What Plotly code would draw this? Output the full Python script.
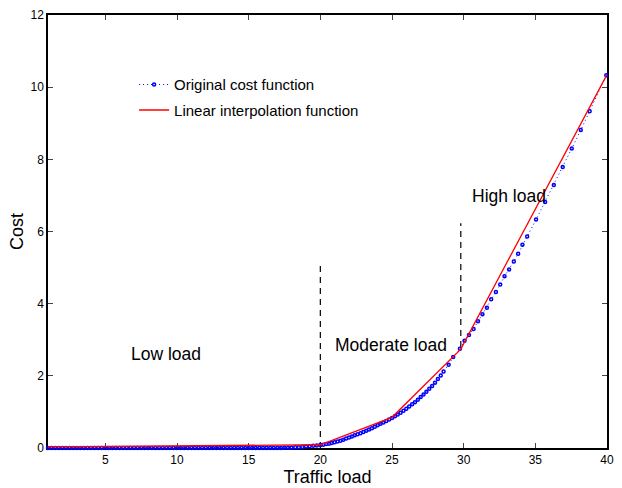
import plotly.graph_objects as go

# ---- data ----
orig_x = [
    1.0, 1.25, 1.5, 1.75, 2.0, 2.25, 2.5, 2.75, 3.0, 3.25, 3.5, 3.75,
    4.0, 4.25, 4.5, 4.75, 5.0, 5.25, 5.5, 5.75, 6.0, 6.25, 6.5, 6.75,
    7.0, 7.25, 7.5, 7.75, 8.0, 8.25, 8.5, 8.75, 9.0, 9.25, 9.5, 9.75,
    10.0, 10.25, 10.5, 10.75, 11.0, 11.25, 11.5, 11.75, 12.0, 12.25, 12.5, 12.75,
    13.0, 13.25, 13.5, 13.75, 14.0, 14.25, 14.5, 14.75, 15.0, 15.25, 15.5, 15.75,
    16.0, 16.25, 16.5, 16.75, 17.0, 17.25, 17.5, 17.75, 18.0, 18.25, 18.5, 18.75,
    19.0, 19.25, 19.5, 19.75,
    20.0, 20.2, 20.4, 20.6, 20.8, 21.0, 21.2, 21.4, 21.6, 21.8,
    22.0, 22.2, 22.4, 22.6, 22.8, 23.0, 23.2, 23.4, 23.6, 23.8,
    24.0, 24.2, 24.4, 24.6, 24.8, 25.0, 25.2, 25.4, 25.6, 25.8,
    26.0, 26.2, 26.4, 26.6, 26.8, 27.0, 27.2, 27.4, 27.6, 27.8,
    28.0, 28.2, 28.4, 28.6,
    28.95, 29.27, 29.74, 30.06, 30.37, 30.69, 31.0, 31.31, 31.62, 31.92,
    32.25, 32.55, 32.85, 33.17, 33.5, 33.8, 34.1, 34.43, 35.05, 35.68,
    36.29, 36.91, 37.54, 38.17, 38.79, 39.95,
]
orig_y = [
    0.0, 0.0, 0.0, 0.0, 0.0, 0.0, 0.0, 0.0, 0.0, 0.0, 0.0, 0.0,
    0.0, 0.0, 0.0, 0.0, 0.0, 0.0, 0.0, 0.0, 0.0, 0.0, 0.0, 0.0,
    0.0, 0.0, 0.0, 0.0, 0.0, 0.0, 0.0, 0.0, 0.0, 0.0, 0.0, 0.0,
    0.0, 0.0, 0.0, 0.0, 0.0, 0.0, 0.0, 0.0, 0.0, 0.0, 0.0, 0.0,
    0.0, 0.0, 0.0, 0.0, 0.0, 0.0, 0.0, 0.0, 0.0, 0.0, 0.0, 0.0,
    0.0, 0.0, 0.0, 0.0, 0.0, 0.0, 0.01, 0.01, 0.01, 0.02, 0.02, 0.03,
    0.04, 0.05, 0.06, 0.07,
    0.08, 0.09, 0.11, 0.12, 0.14, 0.16, 0.18, 0.20, 0.23, 0.26,
    0.29, 0.32, 0.35, 0.38, 0.41, 0.44, 0.48, 0.51, 0.55, 0.59,
    0.63, 0.67, 0.71, 0.75, 0.79, 0.83, 0.88, 0.93, 0.98, 1.03,
    1.09, 1.15, 1.21, 1.27, 1.34, 1.41, 1.48, 1.56, 1.64, 1.72,
    1.81, 1.91, 2.01, 2.12,
    2.31, 2.52, 2.75, 2.97, 3.13, 3.30, 3.51, 3.71, 3.89, 4.12,
    4.32, 4.53, 4.76, 4.95, 5.17, 5.38, 5.63, 5.86, 6.33, 6.82,
    7.29, 7.79, 8.30, 8.81, 9.33, 10.33,
]

interp_x = [1, 20, 25, 29.8, 40]
interp_y = [0.03, 0.09, 0.85, 2.74, 10.35]

# region boundaries (dashed markers)
bound1_x = [20, 20]
bound1_y = [0, 5.08]
bound2_x = [29.8, 29.8]
bound2_y = [2.8, 6.23]

region_labels = ["Low load", "Moderate load", "High load"]
region_label_x = [9.2, 24.95, 33.17]
region_label_y = [2.61, 2.85, 6.98]

x_ticks = [5, 10, 15, 20, 25, 30, 35, 40]
y_ticks = [0, 2, 4, 6, 8, 10, 12]

FONT = "Liberation Sans, Arial, Helvetica, sans-serif"

fig = go.Figure()

for bx, by in ((bound1_x, bound1_y), (bound2_x, bound2_y)):
    fig.add_trace(go.Scatter(
        x=bx, y=by, mode="lines",
        line=dict(color="black", width=1.2, dash="6px,5px"),
        showlegend=False, hoverinfo="skip",
    ))

fig.add_trace(go.Scatter(
    x=orig_x, y=orig_y, mode="lines+markers",
    name="Original cost function",
    line=dict(color="blue", width=1, dash="1px,3px"),
    marker=dict(symbol="circle-open", size=3, color="blue",
                line=dict(width=1.5, color="blue")),
    cliponaxis=False,
    legendgroup="a",
))
fig.add_trace(go.Scatter(
    x=interp_x, y=interp_y, mode="lines",
    name="Linear interpolation function",
    line=dict(color="red", width=1.3),
    cliponaxis=False,
    legendgroup="b",
))

for t, xx, yy in zip(region_labels, region_label_x, region_label_y):
    fig.add_annotation(x=xx, y=yy, text=t, showarrow=False,
                       font=dict(family=FONT, size=17.5, color="black"),
                       xanchor="center", yanchor="middle")

fig.update_layout(
    width=622, height=488,
    margin=dict(l=48, r=14, t=8, b=38),
    paper_bgcolor="white", plot_bgcolor="white",
    font=dict(family=FONT, color="black", size=11),
    showlegend=True,
    legend=dict(
        x=0.154, y=0.877, xanchor="left", yanchor="top",
        bgcolor="rgba(0,0,0,0)", borderwidth=0,
        font=dict(family=FONT, size=15, color="black"),
        traceorder="grouped", tracegroupgap=3,
    ),
)
fig.update_xaxes(
    range=[1, 40], tickvals=x_ticks, ticks="inside", ticklen=5,
    showline=True, linecolor="black", linewidth=1.5, mirror="ticks",
    showgrid=False, zeroline=False, layer="below traces",
    tickfont=dict(family=FONT, size=12, color="black"),
    title=dict(text="Traffic load", font=dict(family=FONT, size=18, color="black"), standoff=0),
)
fig.update_yaxes(
    range=[0, 12], tickvals=y_ticks, ticks="inside", ticklen=5,
    showline=True, linecolor="black", linewidth=1.5, mirror="ticks",
    showgrid=False, zeroline=False, layer="below traces",
    tickfont=dict(family=FONT, size=12, color="black"),
    title=dict(text="Cost", font=dict(family=FONT, size=18, color="black"), standoff=2),
)

fig.write_html("out.html")
